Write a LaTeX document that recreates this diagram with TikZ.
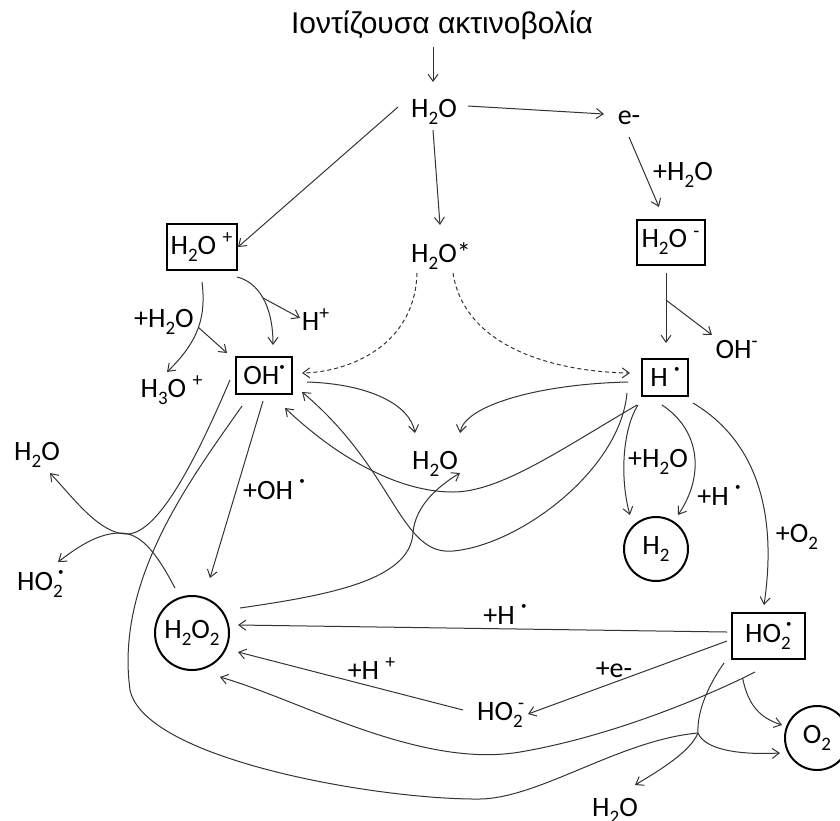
\documentclass[tikz,border=0pt]{standalone}
\usepackage{fontspec}
\setmainfont{Carlito}
\newfontfamily\titlefont{Liberation Sans}
\usetikzlibrary{arrows.meta}
% chemical sub/superscripts, radical dot and stacked pairs
\newcommand\sub[1]{\raisebox{-3.6pt}{\fontsize{9.5}{9.5}\selectfont #1}}
\newcommand\dotglyph{\raisebox{1.1ex}{\fontsize{5.5}{5.5}\selectfont•}}
\newcommand\rdot{\dotglyph}
\newcommand\supsub[2]{\rlap{\hspace{2.5pt}#1}\sub{#2}}
\begin{document}
\begin{tikzpicture}[x=0.5pt,y=-0.5pt,
  every node/.style={font=\fontsize{14}{16}\selectfont, inner sep=0pt},
  lbl/.style={anchor=base},
  sbox/.style 2 args={draw, line width=1pt, minimum width=#1, minimum height=#2},
  circ/.style={circle, draw, line width=1pt, minimum size=#1},
  link/.style={draw=black!80, line width=0.5pt},
  conn/.style={link, -{Straight Barb[length=3.5pt,width=5pt]}},
  dconn/.style={conn, dash pattern=on 2pt off 1.5pt}]
\useasboundingbox (0,0) rectangle (840,820);

% species and labels
\node[lbl, font=\titlefont\fontsize{15}{17}\selectfont] (title) at (442,33) {Ιοντίζουσα ακτινοβολία};
\node[lbl] (w0) at (434,117) {H\sub{2}O};
\node[lbl] (em) at (629,124) {e-};
\node[lbl] (lw2) at (683,180) {+H\sub{2}O};
\node[sbox={35pt}{23pt}] (hplus) at (202,247) {H\sub{2}O \textsuperscript{+}};
\node[lbl] (hstar) at (441,262) {H\sub{2}O*};
\node[sbox={34pt}{22.5pt}] (hminus) at (671,242) {H\sub{2}O \textsuperscript{-}};
\node[sbox={28pt}{18.5pt}] (ohbox) at (264,375) {OH\rdot};
\node[sbox={23pt}{18.5pt}] (hbox) at (665,377) {H \rdot};
\node[lbl] (lw1) at (164,327) {+H\sub{2}O};
\node[lbl] (hp) at (316,330) {H\textsuperscript{+}};
\node[lbl] (h3o) at (172,397) {H\sub{3}O \textsuperscript{+}};
\node[lbl] (ohm) at (737,358) {OH\textsuperscript{-}};
\node[lbl] (wmid) at (435,469) {H\sub{2}O};
\node[lbl] (loh) at (274,499) {+OH \rdot};
\node[lbl] (wleft) at (37,460) {H\sub{2}O};
\node[lbl] (ho2left) at (40,590) {HO\supsub{\dotglyph}{2}};
\node[circ=37pt] (h2o2) at (192,633) {H\sub{2}O\sub{2}};
\node[lbl] (lw3) at (658,467) {+H\sub{2}O};
\node[lbl] (lh1) at (719,505) {+H \rdot};
\node[lbl] (lo2) at (797,542) {+O\sub{2}};
\node[circ=32pt] (h2) at (656,549) {H\sub{2}};
\node[sbox={36.5pt}{23pt}] (ho2box) at (768,636) {HO\supsub{\dotglyph}{2}\hspace{2pt}};
\node[lbl] (lh2) at (505,624) {+H \rdot};
\node[lbl] (le) at (614,677) {+e-};
\node[lbl] (ho2m) at (500,720) {HO\supsub{\textsuperscript{-}}{2}};
\node[lbl] (lhp) at (372,679) {+H \textsuperscript{+}};
\node[circ=32pt] (o2) at (817,738) {O\sub{2}};
\node[lbl] (wbot) at (615,816) {H\sub{2}O};
\coordinate (J) at (698,733);

% primary radiolysis
\draw[conn] ([shift={(-9,14)}]title.base) -- ([shift={(-1,-35)}]w0.base);
\draw[conn] ([shift={(-36,-10)}]w0.base) -- ([shift={(36,0)}]hplus.center);
\draw[conn] ([shift={(-1,13)}]w0.base) -- ([shift={(-1,-37)}]hstar.base);
\draw[conn] ([shift={(34,-11)}]w0.base) -- ([shift={(-25,-10)}]em.base);
\draw[conn] ([shift={(0,13)}]em.base) -- ([shift={(-12,-35)}]hminus.center);
\draw[conn] ([shift={(-5,31)}]hminus.center) -- coordinate[pos=0.386] (bm) ([shift={(1,-34)}]hbox.center);
\draw[conn] (bm) -- ([shift={(-25,-23)}]ohm.base);

% H2O+ decay
\draw[conn] ([shift={(0,35)}]hplus.center) .. controls (206,315) and (200,340) .. coordinate[pos=0.5] (bp) ([shift={(-5,-25)}]h3o.base);
\draw[conn] (bp) -- ([shift={(-37,-22)}]ohbox.center);
\draw[conn] ([shift={(35,30)}]hplus.center) .. controls (258,282) and (273,305) .. coordinate[pos=0.5] (bh) ([shift={(9,-30)}]ohbox.center);
\draw[conn] (bh) -- ([shift={(-16,-12)}]hp.base);

% excited water dissociation
\draw[dconn] ([shift={(-24,11)}]hstar.base) .. controls (415,345) and (350,372) .. ([shift={(38,-2)}]ohbox.center);
\draw[dconn] ([shift={(12,11)}]hstar.base) .. controls (465,350) and (560,372) .. ([shift={(-35,-4)}]hbox.center);

% recombination to water
\draw[conn] ([shift={(43,7)}]ohbox.center) .. controls (370,384) and (410,405) .. ([shift={(-20,-36)}]wmid.base);
\draw[conn] ([shift={(-37,5)}]hbox.center) .. controls (540,384) and (465,405) .. ([shift={(25,-36)}]wmid.base);

% OH + OH -> H2O2
\draw[conn] ([shift={(-1,26)}]ohbox.center) -- ([shift={(18,-55)}]h2o2.center);

% H + H2O2 -> H2O + OH
\draw[conn] ([shift={(48,-25)}]h2o2.center) .. controls (330,595) and (410,580) .. (413,533)
  .. controls (415,505) and (440,485) .. ([shift={(25,4)}]wmid.base);
\draw[conn] ([shift={(-38,16)}]hbox.center) .. controls (620,470) and (520,545) .. (453,551)
  .. controls (400,556) and (395,470) .. ([shift={(38,17)}]ohbox.center);
\draw[conn] ([shift={(-28,28)}]hbox.center) .. controls (560,450) and (500,492) .. (453,492)
  .. controls (400,492) and (340,460) .. ([shift={(21,33)}]ohbox.center);

% H atom reactions
\draw[conn] ([shift={(-27,28)}]hbox.center) .. controls (622,430) and (620,480) .. ([shift={(-26,-34)}]h2.center);
\draw[conn] ([shift={(-3,28)}]hbox.center) .. controls (700,430) and (705,475) .. ([shift={(22,-34)}]h2.center);
\draw[conn] ([shift={(28,26)}]hbox.center) .. controls (755,440) and (778,510) .. ([shift={(-4,-31)}]ho2box.center);

% HO2 reactions
\draw[conn] ([shift={(-41,-4)}]ho2box.center) -- ([shift={(46,-8)}]h2o2.center);
\draw[conn] ([shift={(-41,5)}]ho2box.center) -- ([shift={(28,-6)}]ho2m.base);
\draw[conn] ([shift={(-37,-10)}]ho2m.base) -- ([shift={(46,19)}]h2o2.center);
\draw[conn] ([shift={(-13,36)}]ho2box.center) .. controls (720,690) and (620,735) .. coordinate[pos=0.1] (bo) (520,752)
  .. controls (420,769) and (300,700) .. ([shift={(28,44)}]h2o2.center);
\draw[conn] (bo) .. controls (748,705) and (760,718) .. ([shift={(-35,-13)}]o2.center);

% HO2 + OH -> H2O + O2
\draw[link] ([shift={(-44,27)}]ho2box.center) .. controls (705,690) and (697,715) .. (J);
\draw[link] ([shift={(-22,31)}]ohbox.center) .. controls (190,480) and (115,580) .. (130,690)
  .. controls (145,760) and (380,800) .. (480,799) .. controls (540,798) and (620,740) .. (J);
\draw[conn] (J) .. controls (705,750) and (740,755) .. ([shift={(-37,15)}]o2.center);
\draw[conn] (J) .. controls (690,752) and (660,770) .. ([shift={(20,-31)}]wbot.base);

% OH + H2O2 -> H2O + HO2
\draw[conn] ([shift={(-34,5)}]ohbox.center) .. controls (200,450) and (160,534) .. (127,534)
  .. controls (100,534) and (75,500) .. ([shift={(13,13)}]wleft.base);
\draw[conn] ([shift={(-17,-45)}]h2o2.center) .. controls (155,550) and (140,533) .. (120,533)
  .. controls (100,533) and (80,545) .. ([shift={(18,-28)}]ho2left.base);
\end{tikzpicture}
\end{document}
